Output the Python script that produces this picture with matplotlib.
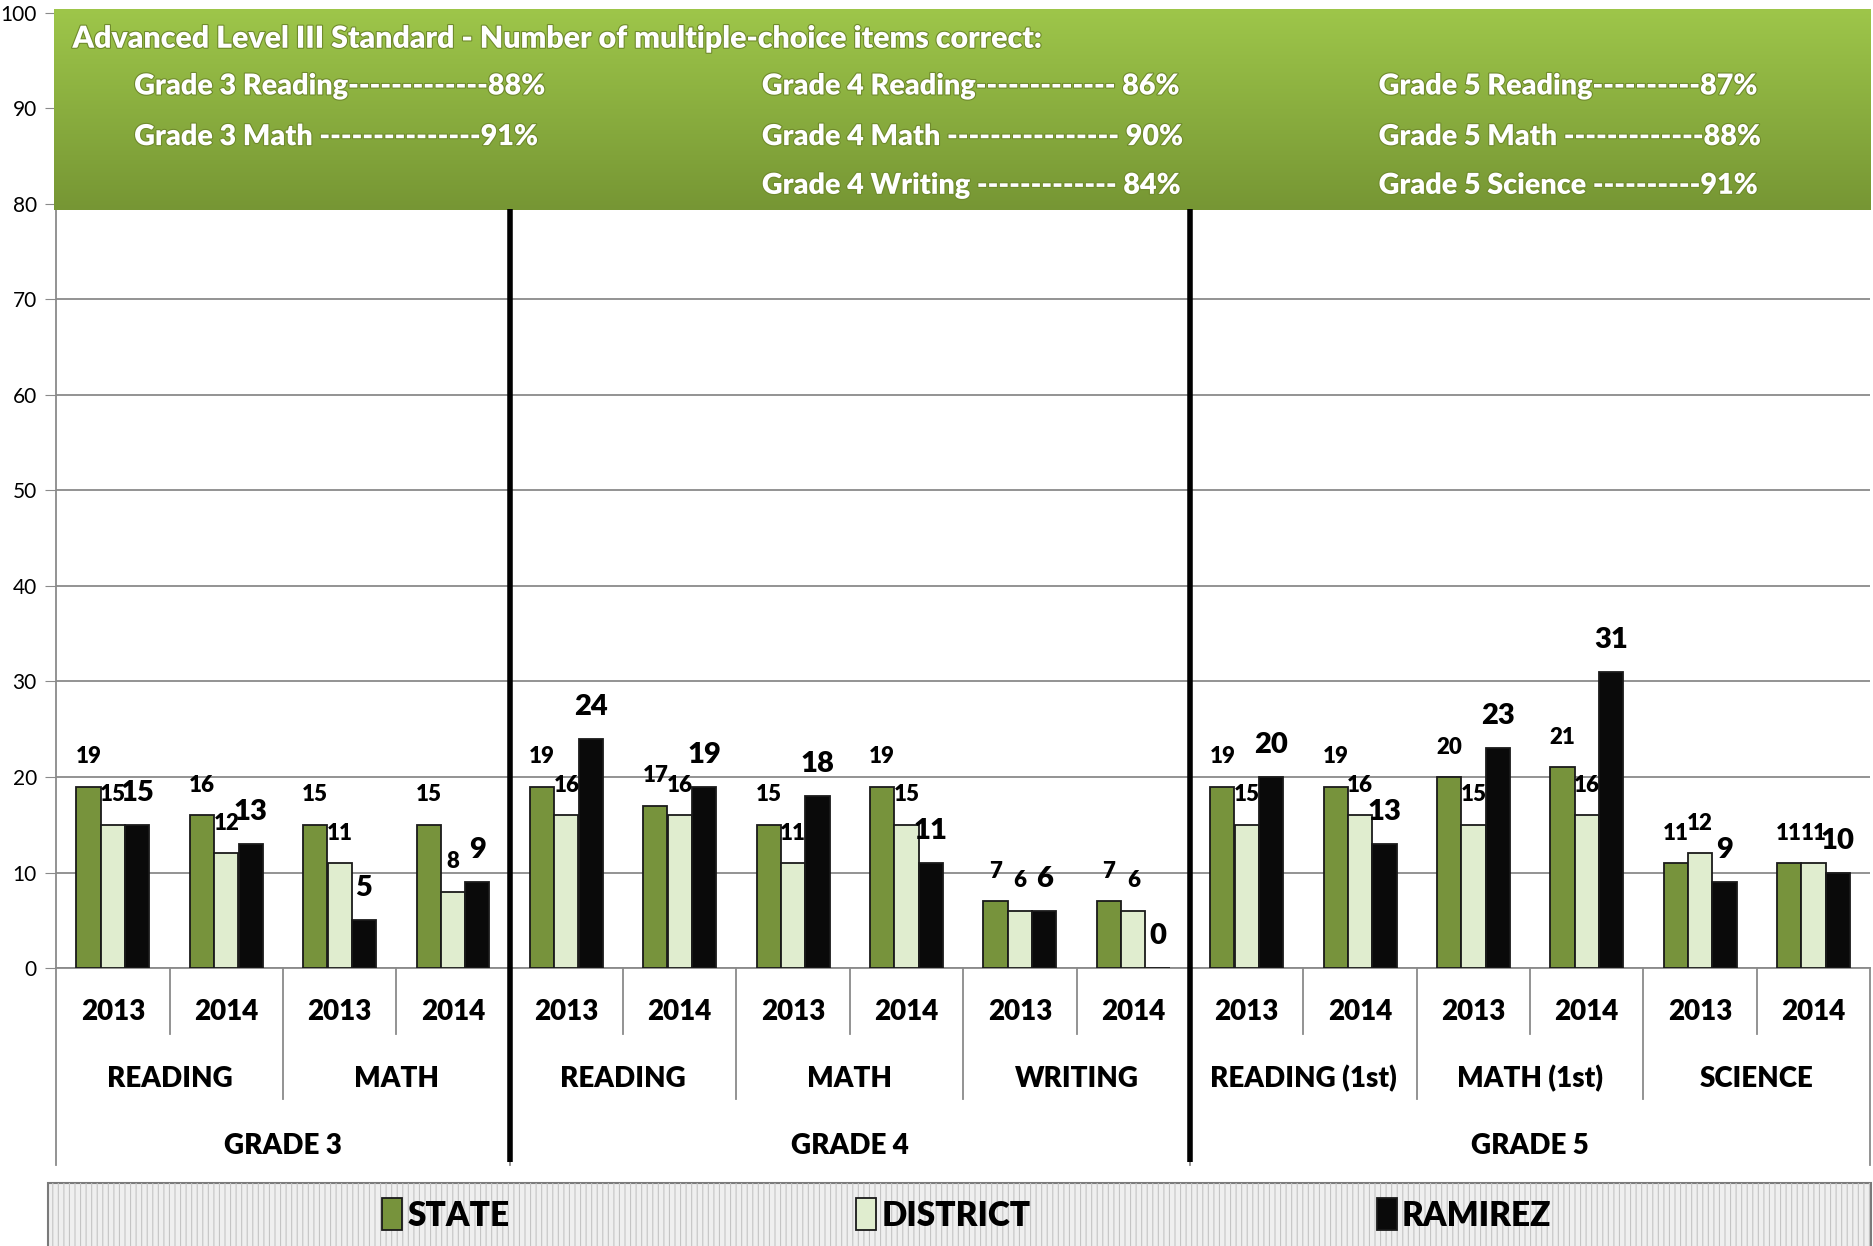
import numpy as np
import matplotlib
matplotlib.use('Agg')
import matplotlib.pyplot as plt
from matplotlib import patheffects as pe
from matplotlib.patches import Rectangle

# ---------------- data ----------------
years = ['2013', '2014'] * 8
subjects = ['READING', 'MATH', 'READING', 'MATH', 'WRITING',
            'READING (1st)', 'MATH (1st)', 'SCIENCE']
grades = ['GRADE 3', 'GRADE 4', 'GRADE 5']
subjects_per_grade = [2, 3, 3]
years_per_subject = 2

series_names = ['STATE', 'DISTRICT', 'RAMIREZ']
state = [19, 16, 15, 15, 19, 17, 15, 19, 7, 7, 19, 19, 20, 21, 11, 11]
district = [15, 12, 11, 8, 16, 16, 11, 15, 6, 6, 15, 16, 15, 16, 12, 11]
ramirez = [15, 13, 5, 9, 24, 19, 18, 11, 6, 0, 20, 13, 23, 31, 9, 10]

banner_title = "Advanced Level III Standard - Number of multiple-choice items correct:"
banner_col1 = ["Grade 3 Reading-------------88%",
               "Grade 3 Math ---------------91%"]
banner_col2 = ["Grade 4 Reading------------- 86%",
               "Grade 4 Math ---------------- 90%",
               "Grade 4 Writing ------------- 84%"]
banner_col3 = ["Grade 5 Reading----------87%",
               "Grade 5 Math -------------88%",
               "Grade 5 Science ----------91%"]

# ---------------- style ----------------
FONT = ['Lato', 'DejaVu Sans']
plt.rcParams['font.family'] = FONT
colors = ['#77933c', '#e0edcf', '#0a0a0a']
grid_gray = '#8a8a8a'
W = 'heavy'

fig = plt.figure(figsize=(18.74, 12.46), dpi=100)
ax = fig.add_axes([0.030, 0.2231, 0.968, 0.7665])

n = len(years)
x = np.arange(n)
bw = 0.213
offs = [-0.215, 0.0, 0.215]
vals = [state, district, ramirez]
handles = []
for k in range(3):
    b = ax.bar(x + offs[k], vals[k], width=bw, color=colors[k],
               edgecolor='#1a1a1a', linewidth=1.3, zorder=3,
               label=series_names[k])
    handles.append(b)
    for xi, v in zip(x, vals[k]):
        big = (k == 2)
        ax.annotate(str(v), (xi + offs[k], v),
                    xytext=(0, 23 if big else 21.5), textcoords='offset points',
                    ha='center', va='center',
                    fontsize=21 if big else 16, fontweight=W,
                    color='black', zorder=5)

ax.set_xlim(-0.5, n - 0.5)
ax.set_ylim(0, 100)
ax.set_yticks(np.arange(0, 101, 10))
ax.yaxis.grid(True, color=grid_gray, linewidth=1.3, zorder=0)
ax.set_axisbelow(True)
ax.set_xticks([])
for s in ['top', 'right']:
    ax.spines[s].set_visible(False)
for s in ['left', 'bottom']:
    ax.spines[s].set_color(grid_gray)
    ax.spines[s].set_linewidth(1.3)
ax.tick_params(axis='y', length=8, color=grid_gray, labelsize=15, pad=6)

# ---------------- banner ----------------
grad = np.linspace(0, 1, 256).reshape(-1, 1)
top_c = np.array([158, 198, 74]) / 255.0
bot_c = np.array([118, 150, 52]) / 255.0
img = top_c[None, None, :] * (1 - grad[:, :, None]) + bot_c[None, None, :] * grad[:, :, None]
ax.imshow(img, extent=(-0.52, n - 0.5, 79.4, 100.4), aspect='auto',
          zorder=6, clip_on=False, interpolation='bilinear')
ax.set_xlim(-0.5, n - 0.5)
ax.set_ylim(0, 100)

stroke = [pe.withStroke(linewidth=1.6, foreground='#6f8a2c')]
tkw = dict(transform=ax.get_yaxis_transform(), color='white', fontsize=20.7,
           fontweight=W, va='center', ha='left', zorder=7,
           path_effects=stroke)
ax.text(0.009, 97.3, banner_title, **{**tkw, 'fontsize': 21.8})
rows_y = [92.3, 87.0, 81.9]
for col, cx in zip([banner_col1, banner_col2, banner_col3], [0.043, 0.389, 0.729]):
    for s, yy in zip(col, rows_y):
        ax.text(cx, yy, s, **tkw)

# ---------------- category axis ----------------
xt = ax.get_xaxis_transform()
lkw = dict(transform=xt, clip_on=False, color=grid_gray, linewidth=1.3)
for i in range(n):
    ax.text(i, -0.046, years[i], transform=xt, ha='center', va='center',
            fontsize=20, fontweight=W)
# year dividers
for i in range(0, n, years_per_subject):
    ax.plot([i + 0.5, i + 0.5], [0, -0.069], **lkw)
# subjects
pos = 0
subj_bounds = []
for s in subjects:
    c = pos + (years_per_subject - 1) / 2
    ax.text(c, -0.116, s, transform=xt, ha='center', va='center',
            fontsize=20, fontweight=W)
    pos += years_per_subject
    subj_bounds.append(pos - 0.5)
for b in subj_bounds[:-1]:
    ax.plot([b, b], [0, -0.137], **lkw)
# grades
pos = 0
grade_bounds = [-0.5]
for g, ns in zip(grades, subjects_per_grade):
    w = ns * years_per_subject
    c = pos + (w - 1) / 2
    ax.text(c, -0.186, g, transform=xt, ha='center', va='center',
            fontsize=20, fontweight=W)
    pos += w
    grade_bounds.append(pos - 0.5)
for b in grade_bounds:
    ax.plot([b, b], [0, -0.206], **lkw)
for b in grade_bounds[1:-1]:
    ax.plot([b, b], [0.795, -0.203], transform=xt, clip_on=False,
            color='black', linewidth=4, zorder=8, solid_capstyle='butt')

# ---------------- legend ----------------
plt.rcParams['hatch.linewidth'] = 0.8
bg = Rectangle((0.0256, -0.01), 0.973, 0.0606, transform=fig.transFigure,
               facecolor='#efefef', edgecolor='#7a7a7a', linewidth=1.5, zorder=1)
hatch = Rectangle((0.0256, -0.01), 0.973, 0.0606, transform=fig.transFigure,
                  facecolor='none', edgecolor='#c4c4c4', hatch='|||',
                  linewidth=0, zorder=1.1)
fig.patches.extend([bg, hatch])
fig.legend(handles, series_names, ncol=3, loc='center',
           bbox_to_anchor=(0.516, 0.025), frameon=False,
           prop=dict(family=FONT, weight=W, size=24),
           handlelength=0.6, handleheight=1.1, handletextpad=0.15,
           columnspacing=10.4)

fig.savefig('out.png', dpi=100)
